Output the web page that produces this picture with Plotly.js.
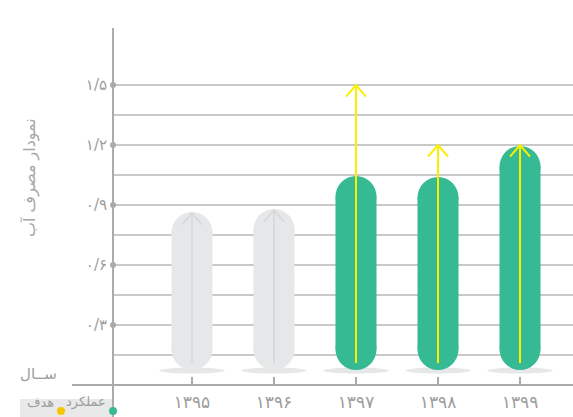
<!DOCTYPE html>
<html>
<head>
<meta charset="utf-8">
<script src="https://cdn.plot.ly/plotly-3.0.1.min.js"></script>
<style>html,body{margin:0;padding:0;background:#fff;}#chart{width:573px;height:417px;}</style>
</head>
<body>
<div id="chart"></div>
<script>
// ---- data ----
const categories = ['۱۳۹۵', '۱۳۹۶', '۱۳۹۷', '۱۳۹۸', '۱۳۹۹'];
const actual = [0.865, 0.88, 1.045, 1.04, 1.195];      // عملکرد
const target = [null, null, 1.5, 1.2, 1.2];            // هدف
const barBottom = 0.075;
const arrowStart = 0.11;
const yGridVals = [0.15, 0.3, 0.45, 0.6, 0.75, 0.9, 1.05, 1.2, 1.35, 1.5];
const yTickText = ['', '۰/۳', '', '۰/۶', '', '۰/۹', '', '۱/۲', '', '۱/۵'];
const yTitle = 'نمودار مصرف آب';
const xTitle = 'ســال';
const legendNames = ['عملکرد', 'هدف'];

// ---- layout geometry ----
const W = 573, H = 417, mL = 113, mR = 0, mT = 28, mB = 32;
const pw = W - mL - mR, ph = H - mT - mB;
const xRange = [-0.963, 4.646];
const yRange = [0, 1.785];
const px = p => (p - mL) / pw;          // pixel -> paper x
const py = p => (H - mB - p) / ph;      // pixel -> paper y
const unitPx = pw / (xRange[1] - xRange[0]);
const yPx = ph / (yRange[1] - yRange[0]);
const barW = 0.5;                         // in x units
const capPx = barW * unitPx;              // diameter of rounded ends in px
const r = capPx / 2 / yPx;                // radius in y units

const GREEN = '#35ba94', GRAY = '#e6e7e8', YELLOW = '#fcee00', LGRAY = '#d9dadb';
const TXT = '#9d9d9d', AX = '#ababab', GRID = '#c9c9c9';
const FONT = 'DejaVu Sans, Noto Sans, sans-serif';

const xs = categories.map((c, i) => i);
const isPast = target.map(t => t === null);
const colors = isPast.map(p => p ? GRAY : GREEN);

const traces = [];
// bar body between the two round caps
traces.push({
  type: 'bar', x: xs, base: actual.map(() => barBottom + r), y: actual.map(v => v - r - (barBottom + r)),
  width: barW, marker: {color: colors, line: {width: 0}},
  hoverinfo: 'skip', showlegend: false
});
// round caps (top and bottom)
traces.push({
  type: 'scatter', mode: 'markers', x: xs.concat(xs),
  y: actual.map(v => v - r).concat(actual.map(() => barBottom + r)),
  marker: {size: capPx, color: colors.concat(colors), line: {width: 0}},
  hoverinfo: 'skip', showlegend: false
});

function arrowTrace(sel, color) {
  const ax = [], ay = [];
  const dx = 0.122, dy = 0.058;
  xs.forEach((x, i) => {
    if (!sel(i)) return;
    const top = target[i] !== null ? target[i] : actual[i] - 0.005;
    ax.push(x, x, null, x - dx, x, x + dx, null);
    ay.push(arrowStart, top, null, top - dy, top, top - dy, null);
  });
  return {type: 'scatter', mode: 'lines', x: ax, y: ay,
    line: {color: color, width: 2}, hoverinfo: 'skip', showlegend: false, cliponaxis: false};
}
traces.push(arrowTrace(i => isPast[i], LGRAY));
traces.push(arrowTrace(i => !isPast[i], YELLOW));

// tick dots on y axis
const labVals = yGridVals.filter((v, i) => yTickText[i] !== '');
traces.push({type: 'scatter', mode: 'markers', x: labVals.map(() => xRange[0]), y: labVals,
  marker: {color: AX, size: 6}, cliponaxis: false, hoverinfo: 'skip', showlegend: false});

const shapes = [];
// shadows
xs.forEach(x => shapes.push({type: 'circle', xref: 'x', yref: 'y', layer: 'below',
  x0: x - 0.4, x1: x + 0.4, y0: 0.057, y1: 0.087, fillcolor: GRAY, line: {width: 0}}));
// axis lines
shapes.push({type: 'line', xref: 'paper', yref: 'paper', x0: 0, x1: 0, y0: py(H), y1: 1,
  line: {color: AX, width: 2}});
shapes.push({type: 'line', xref: 'paper', yref: 'paper', x0: px(72), x1: 1, y0: 0, y1: 0,
  line: {color: AX, width: 2}});
// legend box
shapes.push({type: 'rect', xref: 'paper', yref: 'paper', x0: px(20), x1: px(113), y0: py(H + 2), y1: py(399),
  fillcolor: '#e9e9e9', line: {width: 0}, layer: 'below'});
shapes.push({type: 'circle', xref: 'paper', yref: 'paper', x0: px(109), x1: px(117), y0: py(415), y1: py(407),
  fillcolor: GREEN, line: {width: 0}});
shapes.push({type: 'circle', xref: 'paper', yref: 'paper', x0: px(57), x1: px(65), y0: py(415), y1: py(407),
  fillcolor: '#f7c600', line: {width: 0}});

const annotations = [
  {text: yTitle, xref: 'paper', yref: 'paper', x: px(30), y: py(178), textangle: -90, showarrow: false,
    xanchor: 'center', yanchor: 'middle', font: {family: FONT, size: 16, color: '#a8a8a8'}},
  {text: xTitle, xref: 'paper', yref: 'paper', x: px(59), y: py(385), xanchor: 'right', showarrow: false,
    font: {family: FONT, size: 15, color: TXT}},
  {text: legendNames[0], xref: 'paper', yref: 'paper', x: px(108), y: py(412), xanchor: 'right', showarrow: false,
    font: {family: FONT, size: 13, color: TXT}},
  {text: legendNames[1], xref: 'paper', yref: 'paper', x: px(56), y: py(412), xanchor: 'right', showarrow: false,
    font: {family: FONT, size: 13, color: TXT}}
];

const layout = {
  width: W, height: H, margin: {l: mL, r: mR, t: mT, b: mB, pad: 0},
  paper_bgcolor: '#fff', plot_bgcolor: '#fff', barmode: 'overlay', showlegend: false,
  xaxis: {range: xRange, tickvals: xs, ticktext: categories, ticks: 'inside', ticklen: 8,
    tickwidth: 1.5, tickcolor: AX, showgrid: false, zeroline: false, showline: false,
    ticklabelstandoff: 5, tickfont: {family: FONT, size: 17, color: TXT}, fixedrange: true},
  yaxis: {range: yRange, tickvals: yGridVals, ticktext: yTickText, ticks: '', showgrid: true,
    gridcolor: GRID, gridwidth: 1.5, zeroline: false, showline: false, ticklabelstandoff: 5,
    tickfont: {family: FONT, size: 15, color: TXT}, fixedrange: true},
  shapes: shapes, annotations: annotations
};

Plotly.newPlot('chart', traces, layout, {displayModeBar: false, staticPlot: true});
</script>
</body>
</html>
